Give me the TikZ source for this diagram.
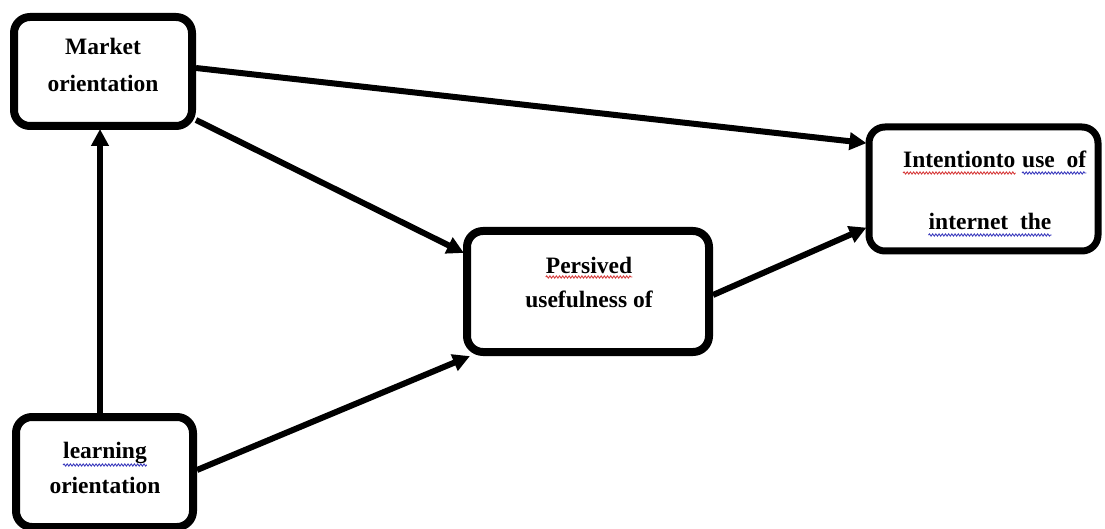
\documentclass[tikz,border=0pt]{standalone}
\usepackage{fontspec}
\setmainfont{Liberation Serif}
\usetikzlibrary{arrows.meta,decorations.pathmorphing}
\definecolor{spellred}{RGB}{215,60,60}
\definecolor{spellblue}{RGB}{60,60,190}
\tikzset{
  box/.style={draw=black, rounded corners=16pt, fill=white, inner sep=0pt},
  txt/.style={inner sep=0pt, font=\fontsize{23.5}{28}\selectfont\bfseries, anchor=base},
  conn/.style={line width=6pt, -{Triangle[length=17pt,width=17pt]}, shorten >=-1pt},
  wavy/.style={line width=0.9pt, decorate, decoration={snake, amplitude=1.1pt, segment length=3.2pt}},
}
\begin{document}
\begin{tikzpicture}[x=1pt,y=-1pt]
\useasboundingbox (0,0) rectangle (1105,529);
% boxes
\node[box, line width=8pt, minimum width=178pt, minimum height=109pt] (market) at (103,71.5) {};
\node[box, line width=7pt, minimum width=229pt, minimum height=124pt] (intent) at (983.5,189) {};
\node[box, line width=8pt, minimum width=242pt, minimum height=121pt] (pers) at (588,291.5) {};
\node[box, line width=8pt, minimum width=177pt, minimum height=110pt] (learn) at (104.5,472) {};
% texts
\node[txt] (m1) at (103,55) {Market};
\node[txt] (m2) at (103,92) {orientation};
\node[txt, anchor=base west] (i1a) at (903,168) {Intentionto};
\node[txt, anchor=base west] (i1b) at (1022,168) {use\ \ of};
\node[txt] (i2) at (990,230) {internet\ \ the};
\node[txt] (p1) at (589,273) {Persived};
\node[txt] (p2) at (589,307) {usefulness of};
\node[txt] (l1) at (105,458) {learning};
\node[txt] (l2) at (105,493) {orientation};
% spell-check underlines
\draw[wavy, spellred] ([yshift=-5pt]i1a.base west) -- ([yshift=-5pt]i1a.base east);
\draw[wavy, spellblue] ([yshift=-5pt]i1b.base west) -- ([yshift=-5pt]i1b.base east);
\draw[wavy, spellblue] ([yshift=-5pt]i2.base west) -- ([yshift=-5pt]i2.base east);
\draw[wavy, spellred] ([yshift=-4pt]p1.base west) -- ([yshift=-4pt]p1.base east);
\draw[wavy, spellblue] ([yshift=-7pt]l1.base west) -- ([yshift=-7pt]l1.base east);
% connectors
\draw[conn] ([yshift=3.5pt]market.east) -- ([yshift=46pt]intent.west);
\draw[conn] ([yshift=-48.5pt]market.east) -- ([yshift=39pt]pers.west);
\draw[conn] ([xshift=-4.5pt]learn.north) -- ([xshift=-3pt]market.south);
\draw[conn] ([yshift=2pt]learn.east) -- ([xshift=6pt,yshift=-65pt]pers.west);
\draw[conn] ([yshift=-3.5pt]pers.east) -- ([yshift=-39pt]intent.west);
\end{tikzpicture}
\end{document}
